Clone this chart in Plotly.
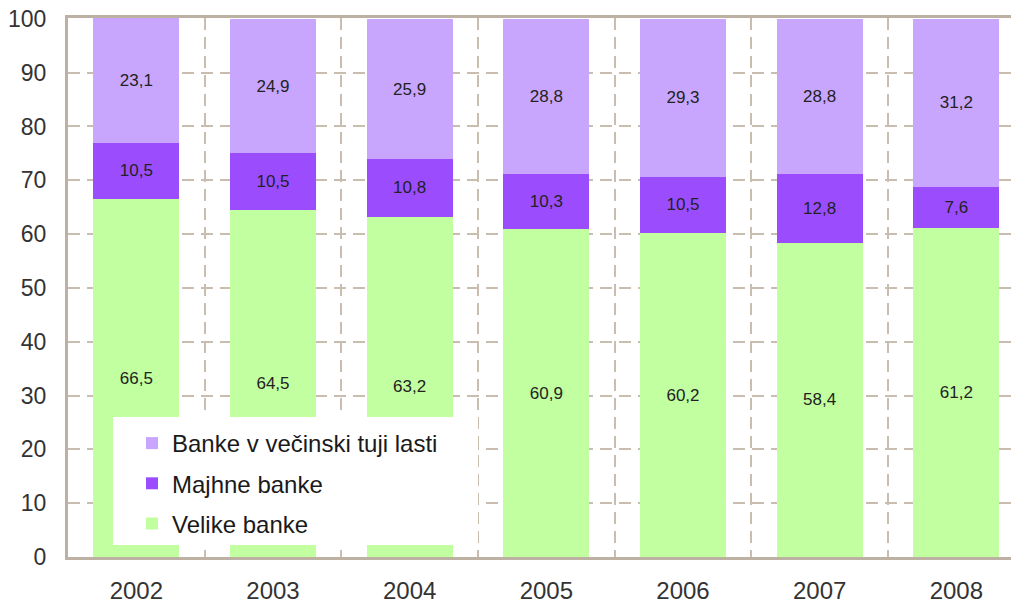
import plotly.graph_objects as go

years = ["2002", "2003", "2004", "2005", "2006", "2007", "2008"]
velike = [66.5, 64.5, 63.2, 60.9, 60.2, 58.4, 61.2]
majhne = [10.5, 10.5, 10.8, 10.3, 10.5, 12.8, 7.6]
tuje = [23.1, 24.9, 25.9, 28.8, 29.3, 28.8, 31.2]

series = [
    ("Velike banke", velike, "#c2ffa0", 3),
    ("Majhne banke", majhne, "#9b4dfe", 2),
    ("Banke v večinski tuji lasti", tuje, "#c8a6fe", 1),
]

fig = go.Figure()
for i, (name, vals, col, rank) in enumerate(series):
    fig.add_trace(go.Bar(
        x=years, y=vals, name=name,
        marker=dict(color=col, line=dict(width=0)),
        width=0.63,
        text=vals, texttemplate="%{y:.1f}",
        textposition="inside", insidetextanchor="middle",
        textangle=0,
        textfont=dict(family="Liberation Sans, Arial", size=17, color="#222222"),
        legendgroup=f"g{i}", legendrank=rank,
        showlegend=True,
    ))

L, R, T, B = 68, 0, 18, 50
W, H = 1011, 607
pw = W - L - R
ph = H - T - B

def px_x(x):
    return (x - L) / pw

def px_y(y):
    return (H - B - y) / ph

grid_col = "#c9bdaf"
line_col = "#bcb1a3"

fig.update_layout(
    width=W, height=H,
    margin=dict(l=L, r=R, t=T, b=B, pad=0),
    barmode="stack",
    separators=", ",
    plot_bgcolor="white", paper_bgcolor="white",
    font=dict(family="Liberation Sans, Arial", color="#333333"),
    xaxis=dict(
        type="category",
        range=[-0.5, 6.4],
        tickson="boundaries",
        showgrid=True, gridcolor=grid_col, gridwidth=2, griddash="12px,7px",
        showline=True, linecolor=line_col, linewidth=3, mirror=True,
        ticks="", tickfont=dict(size=24, color="#333333"),
        ticklabelstandoff=10,
    ),
    yaxis=dict(
        range=[0, 100.15], tickvals=list(range(0, 101, 10)),
        showgrid=True, gridcolor=grid_col, gridwidth=2, griddash="12px,7px",
        zeroline=False,
        showline=True, linecolor=line_col, linewidth=3,
        ticks="", tickfont=dict(size=23, color="#333333"),
        ticklabelstandoff=14,
    ),
    legend=dict(
        x=px_x(132), y=px_y(421), xanchor="left", yanchor="top",
        bgcolor="rgba(0,0,0,0)", borderwidth=0,
        traceorder="grouped", tracegroupgap=6,
        font=dict(size=24, color="#1a1a1a", family="Liberation Sans, Arial"),
    ),
    shapes=[dict(
        type="rect", xref="paper", yref="paper", layer="above",
        x0=px_x(113), x1=px_x(478), y0=px_y(545), y1=px_y(417),
        fillcolor="white", line=dict(width=0),
    )],
)

fig.write_html("out.html")
